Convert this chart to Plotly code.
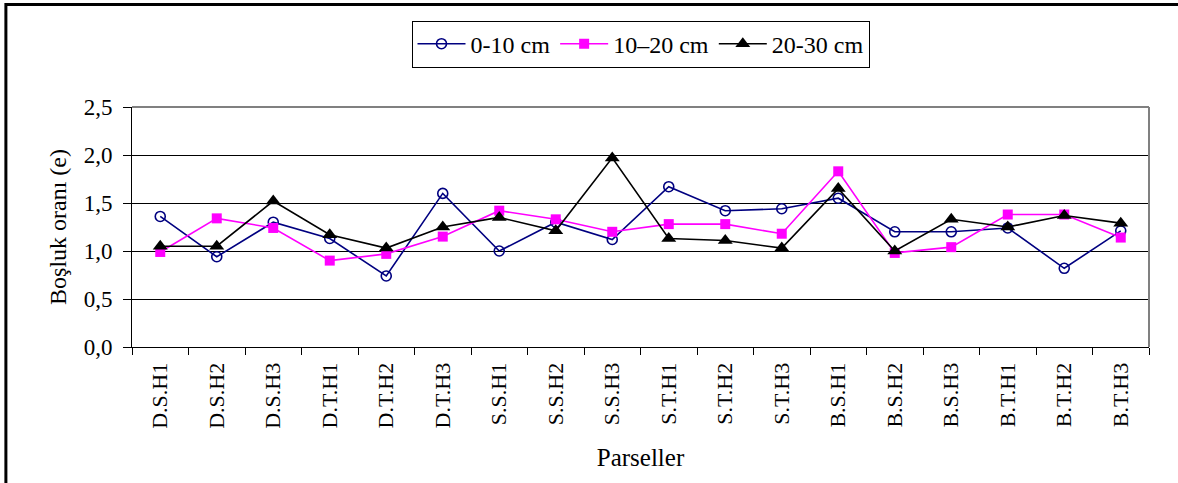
import plotly.graph_objects as go

categories = ["D.S.H1", "D.S.H2", "D.S.H3", "D.T.H1", "D.T.H2", "D.T.H3",
              "S.S.H1", "S.S.H2", "S.S.H3", "S.T.H1", "S.T.H2", "S.T.H3",
              "B.S.H1", "B.S.H2", "B.S.H3", "B.T.H1", "B.T.H2", "B.T.H3"]
depth_0_10 = [1.36, 0.94, 1.30, 1.13, 0.74, 1.60,
              1.00, 1.30, 1.12, 1.67, 1.42, 1.44,
              1.55, 1.20, 1.20, 1.24, 0.82, 1.21]
depth_10_20 = [0.99, 1.34, 1.24, 0.90, 0.97, 1.15,
               1.42, 1.33, 1.20, 1.28, 1.28, 1.18,
               1.83, 0.98, 1.04, 1.38, 1.38, 1.14]
depth_20_30 = [1.05, 1.05, 1.52, 1.17, 1.03, 1.25,
               1.35, 1.21, 1.97, 1.13, 1.11, 1.03,
               1.65, 1.00, 1.33, 1.25, 1.37, 1.29]
series_names = ["0-10 cm", "10\u201320 cm", "20-30 cm"]
y_ticks = [0, 0.5, 1.0, 1.5, 2.0, 2.5]

FONT = "Liberation Serif, Times New Roman, serif"

fig = go.Figure()
fig.add_trace(go.Scatter(
    x=categories, y=depth_0_10, name=series_names[0], mode="lines+markers",
    line=dict(color="#000080", width=1.6),
    marker=dict(symbol="circle-open", size=10, color="#000080", line=dict(width=1.6, color="#000080")),
))
fig.add_trace(go.Scatter(
    x=categories, y=depth_10_20, name=series_names[1], mode="lines+markers",
    line=dict(color="#FF00FF", width=1.6),
    marker=dict(symbol="square", size=10, color="#FF00FF"),
))
fig.add_trace(go.Scatter(
    x=categories, y=depth_20_30, name=series_names[2], mode="lines+markers",
    line=dict(color="#000000", width=1.6),
    marker=dict(symbol="triangle-up", size=13, color="#000000"),
))

fig.update_layout(
    width=1178, height=483,
    margin=dict(l=132, r=29, t=107, b=136, pad=0),
    paper_bgcolor="white", plot_bgcolor="white",
    font=dict(family=FONT, size=22, color="black"),
    separators=",.",
    showlegend=True,
    legend=dict(
        orientation="h", x=0.5, xanchor="center", y=1.36, yanchor="top",
        bordercolor="black", borderwidth=1, bgcolor="white",
        font=dict(family=FONT, size=24, color="black"),
        itemwidth=48, traceorder="normal", tracegroupgap=0,
    ),
    xaxis=dict(
        type="category", range=[-0.5, len(categories) - 0.5], autorange=False,
        tickangle=-90, tickson="boundaries",
        ticks="outside", ticklen=7, tickcolor="black", tickwidth=1,
        ticklabelstandoff=6,
        showline=True, linecolor="black", linewidth=1,
        showgrid=False, zeroline=False,
        tickfont=dict(family=FONT, size=22, color="black"),
        title=dict(text="Parseller", font=dict(family=FONT, size=25, color="black"), standoff=20),
    ),
    yaxis=dict(
        range=[0, 2.5], autorange=False, tickvals=y_ticks, tickformat=".1f",
        ticks="outside", ticklen=8, tickcolor="black", tickwidth=1,
        ticklabelstandoff=6,
        showline=True, linecolor="black", linewidth=1,
        showgrid=True, gridcolor="black", gridwidth=1, zeroline=False,
        tickfont=dict(family=FONT, size=23, color="black"),
        title=dict(text="Boşluk oranı (e)", font=dict(family=FONT, size=24, color="black"), standoff=10),
    ),
    shapes=[
        dict(type="line", xref="paper", yref="paper", x0=0, x1=1, y0=1, y1=1,
             line=dict(color="#808080", width=2), layer="above"),
        dict(type="line", xref="paper", yref="paper", x0=1, x1=1, y0=0, y1=1,
             line=dict(color="#808080", width=2), layer="above"),
        dict(type="rect", xref="paper", yref="paper", x0=-0.124, x1=1.2, y0=-1.0, y1=1.427,
             line=dict(color="black", width=3), layer="above"),
    ],
)

fig.write_html("out.html")
